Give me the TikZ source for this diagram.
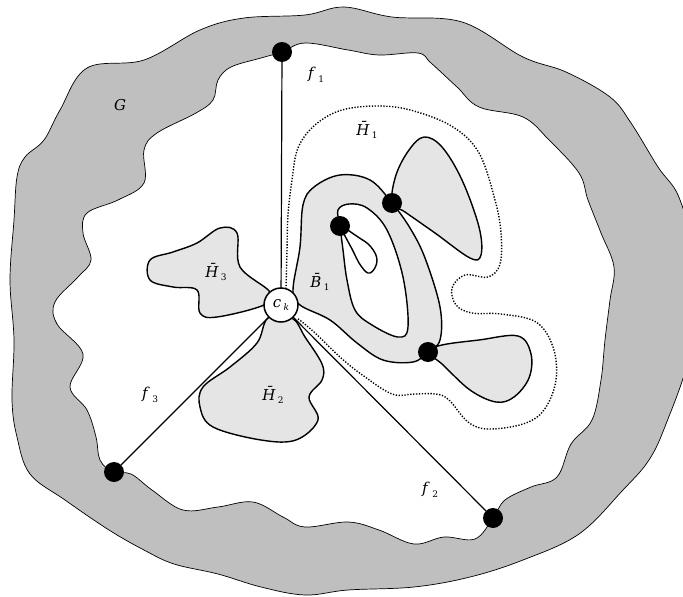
\documentclass[tikz,border=0pt]{standalone}
\usepackage{fontspec}
\setmainfont{DejaVu Serif}
\newcommand\lab[2]{\textit{#1}\,\raisebox{-0.45ex}{\fontsize{9}{9}\selectfont #2}}
\begin{document}
\begin{tikzpicture}[x=1pt,y=-1pt,
  blob/.style={fill=black!10,draw=black,line width=1.4pt},
  dot/.style={circle,fill=black,inner sep=0pt,minimum size=20pt},
  edge/.style={line width=1.2pt},
  lbl/.style={font=\fontsize{15}{18}\selectfont,inner sep=0pt}]
\useasboundingbox (0,0) rectangle (683,597);
% region G
\fill[black!25,even odd rule,draw=black,line width=0.7pt]
 plot[smooth cycle,tension=0.6] coordinates{(344,7) (392,17) (462,22) (523,57) (566,72) (610,97) (631,123) (658,167) (678,195) (690,240) (692,300) (688,360) (666,424) (649,460) (623,490) (579,534) (523,560) (470,577) (414,587) (348,590) (305,595) (261,587) (218,574) (174,564) (144,550) (109,530) (65,500) (30,474) (17,437) (12,400) (14,340) (10,280) (14,220) (17,177) (25,157) (44,140) (60,110) (87,68) (144,60) (200,30) (244,18) (305,15)}
 plot[smooth cycle,tension=0.6] coordinates{(282,52) (305,43) (348,50) (379,55) (418,53) (431,63) (457,87) (479,107) (523,117) (549,140) (579,173) (588,200) (601,233) (614,267) (610,300) (605,340) (601,380) (592,420) (571,444) (557,477) (531,487) (505,500) (493,518) (475,539) (444,537) (414,544) (379,530) (348,522) (305,527) (283,517) (253,502) (218,507) (183,510) (152,490) (131,474) (113,472) (100,460) (96,437) (87,410) (70,387) (83,354) (57,324) (55,302) (78,277) (91,260) (83,233) (87,213) (118,200) (144,183) (144,150) (157,133) (196,113) (213,100) (218,80) (231,67) (261,58)};
% nodes
\node[dot] (f1) at (282,52) {};
\node[dot] (f3) at (114,472) {};
\node[dot] (f2) at (493,518) {};
\coordinate (ck0) at (281,305);
\draw[edge] (f1) -- (ck0);
\draw[edge] (f3) -- (ck0);
\draw[edge] (f2) -- (ck0);
% H3
\draw[blob] plot[smooth cycle,tension=0.6] coordinates{(270,292) (240,267) (237,233) (220,228) (197,243) (173,252) (150,260) (150,280) (173,287) (197,290) (200,313) (217,317) (264,305)};
% H2
\draw[blob] plot[smooth cycle,tension=0.6] coordinates{(268,318) (257,343) (230,367) (203,387) (200,407) (213,427) (261,440) (296,440) (318,420) (309,397) (322,380) (322,364) (305,337) (292,318)};
% upper right petal
\draw[blob] plot[smooth cycle,tension=0.6] coordinates{(392,203) (396,175) (409,150) (424,137) (442,147) (462,180) (479,227) (481,255) (470,258) (435,233) (405,212)};
% lower right petal
\draw[blob] plot[smooth cycle,tension=0.6] coordinates{(428,352) (442,345) (479,340) (518,336) (531,354) (529,378) (514,397) (496,402) (470,390) (442,364)};
% B1 band
\draw[blob,even odd rule] plot[smooth cycle,tension=0.6] coordinates{(293,290) (300,247) (303,205) (314,187) (340,175) (370,180) (392,203) (410,228) (425,258) (440,307) (440,340) (428,352) (413,362) (383,360) (357,343) (330,320) (300,305)}
 plot[smooth cycle,tension=0.6] coordinates{(340,226) (338,210) (349,204) (367,208) (387,230) (403,277) (408,327) (398,337) (372,325) (355,310) (347,280) (343,250)};
% small petal
\draw[line width=1.4pt,fill=white] plot[smooth cycle,tension=0.7] coordinates{(340,226) (358,237) (371,247) (377,261) (370,273) (361,266) (352,249) (345,236)};
% dotted boundary of H1
\draw[dash pattern=on 1.3pt off 1.6pt,line width=1.4pt] plot[smooth,tension=0.6] coordinates{(286,289) (287,250) (288,215) (292,180) (298,148) (315,125) (342,110) (380,106) (414,111) (453,127) (479,153) (495,200) (501,233) (500,264) (488,277) (465,275) (452,288) (456,305) (472,313) (501,314) (536,322) (553,347) (556,380) (544,410) (523,424) (488,429) (468,422) (449,400) (436,394) (414,394) (392,394) (361,374) (340,357) (314,332) (297,318)};
% inner dots
\node[dot] (d1) at (340,226) {};
\node[dot] (d2) at (392,203) {};
\node[dot] (d3) at (428,352) {};
\node[circle,draw=black,fill=white,line width=1.5pt,minimum size=34pt,inner sep=0pt] (ck) at (281,305) {};
\node[lbl] at (ck) {\lab{c}{\textit{k}}};
% labels
\node[lbl] (lG) at (120,105) {\textit{G}};
\node[lbl] (lf1) at (316,75) {\lab{f}{1}};
\node[lbl] (lf2) at (430,490) {\lab{f}{2}};
\node[lbl] (lf3) at (150,395) {\lab{f}{3}};
\node[lbl] (lH1) at (367,130) {\lab{\={H}}{1}};
\node[lbl] (lH2) at (273,395) {\lab{\={H}}{2}};
\node[lbl] (lH3) at (216,272) {\lab{\={H}}{3}};
\node[lbl] (lB1) at (320,282) {\lab{\={B}}{1}};
\end{tikzpicture}
\end{document}
